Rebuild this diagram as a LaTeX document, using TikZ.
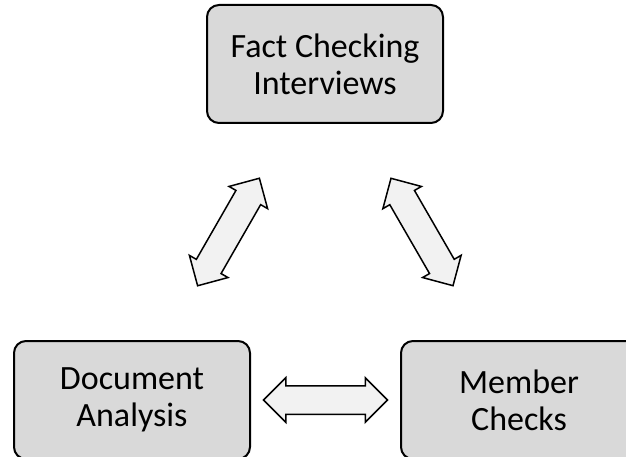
\documentclass[tikz,border=0pt]{standalone}
\usepackage{fontspec}
\setmainfont{Carlito}
\usetikzlibrary{shapes.arrows}
\tikzset{
  tri box/.style={
    rectangle,rounded corners=12pt,draw=black,fill=black!15,line width=2pt,
    minimum width=236pt,minimum height=118pt,align=center,
    font=\fontsize{34}{37}\selectfont
  },
  tri arrow/.style={
    double arrow,draw=black,fill=black!5,line width=1.5pt,
    minimum height=124pt,inner xsep=0pt,inner ysep=13.5pt,
    double arrow head extend=8pt
  }
}

\begin{document}
\begin{tikzpicture}[x=1pt,y=1pt]
  \useasboundingbox (0,0) rectangle (626,456);
  \node[tri box] (fact) at (325,392) {Fact Checking\\Interviews};
  \node[tri box] (doc) at (132,56) {Document\\Analysis};
  \node[tri box] (memb) at (519,56) {Member\\Checks};
  \path (doc.center) -- node[tri arrow,sloped] (docfact) {} (fact.center)
    (fact.center) -- node[tri arrow,sloped] (factmemb) {} (memb.center)
    (doc.center) -- node[tri arrow,sloped] (docmemb) {} (memb.center);
\end{tikzpicture}
\end{document}
